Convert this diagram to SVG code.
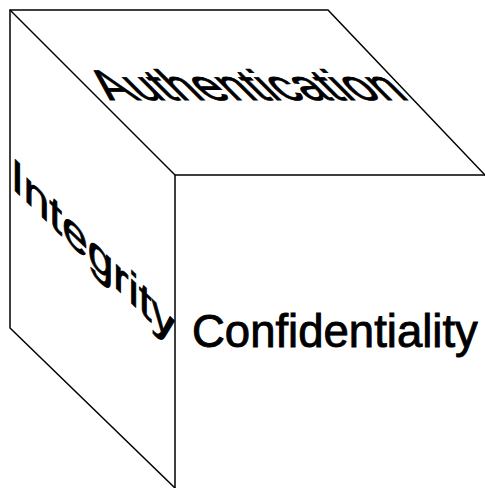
<svg xmlns="http://www.w3.org/2000/svg" width="485" height="488" viewBox="0 0 485 488">
<style>
.edge{fill:none;stroke:#000;stroke-width:1.5}
.lbl{font-family:"Liberation Sans",Arial,sans-serif;fill:#000;stroke:#000;stroke-width:0.9}
</style>
<rect x="0" y="0" width="485" height="488" fill="#fff"/>
<g id="connectors">
<polyline class="edge" points="175,488 10,328 10,10 328,10 485,175"/>
<line class="edge" x1="10" y1="10" x2="175" y2="175"/>
<polyline class="edge" points="175,488 175,175 485,175"/>
</g>
<g id="top-face">
<text class="lbl" font-size="47.5" transform="translate(110,100) skewX(45) scale(1,0.9)">Authentication</text>
</g>
<g id="left-face">
<text class="lbl" font-size="46" transform="translate(11,187) skewY(44)">Integrity</text>
</g>
<g id="front-face">
<text class="lbl" font-size="45.5" x="192" y="347">Confidentiality</text>
</g>
</svg>
